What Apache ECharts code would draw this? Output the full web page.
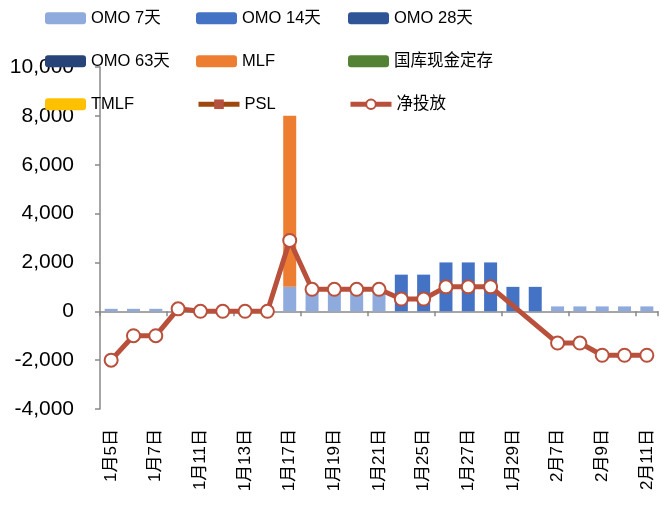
<!DOCTYPE html>
<html>
<head>
<meta charset="utf-8">
<script src="https://cdn.jsdelivr.net/npm/echarts@6/dist/echarts.min.js"></script>
<style>
html, body { margin: 0; padding: 0; background: #fff; }
#chart { width: 660px; height: 516px; }
</style>
</head>
<body>
<div id="chart"></div>
<script>
var categories = ['1月5日', '1月6日', '1月7日', '1月10日', '1月11日', '1月12日', '1月13日', '1月14日',
    '1月17日', '1月18日', '1月19日', '1月20日', '1月21日', '1月24日', '1月25日', '1月26日',
    '1月27日', '1月28日', '1月29日', '1月30日', '2月7日', '2月8日', '2月9日', '2月10日', '2月11日'];

var omo7 = [100, 100, 100, 100, 100, 100, 100, 100, 1000, 1000, 1000, 1000, 1000, 0, 0, 0,
    0, 0, 0, 0, 200, 200, 200, 200, 200];
var omo14 = [0, 0, 0, 0, 0, 0, 0, 0, 0, 0, 0, 0, 0, 1500, 1500, 2000,
    2000, 2000, 1000, 1000, 0, 0, 0, 0, 0];
var omo28 = [];
var omo63 = [];
var mlf = [0, 0, 0, 0, 0, 0, 0, 0, 7000, 0, 0, 0, 0, 0, 0, 0,
    0, 0, 0, 0, 0, 0, 0, 0, 0];
var deposit = [];
var tmlf = [];
var psl = [];
var net = [-2000, -1000, -1000, 100, 0, 0, 0, 0, 2900, 900, 900, 900, 900, 500, 500, 1000,
    1000, 1000, null, null, -1300, -1300, -1800, -1800, -1800];

var yTicks = [-4000, -2000, 0, 2000, 4000, 6000, 8000, 10000];

var font = "'Liberation Sans', 'Noto Sans CJK SC', sans-serif";

function fmt(val) {
    var s = String(Math.abs(val)).replace(/\B(?=(\d{3})+(?!\d))/g, ',');
    return (val < 0 ? '-' : '') + s;
}

function barSeries(name, data, color) {
    return {
        name: name,
        type: 'bar',
        stack: 'total',
        barWidth: 13,
        itemStyle: { color: color },
        data: data
    };
}

// one legend per item so the 3x3 grid lines up
var legendNames = [
    ['OMO 7天', 'OMO 14天', 'OMO 28天'],
    ['OMO 63天', 'MLF', '国库现金定存'],
    ['TMLF', 'PSL', '净投放']
];
var legendCols = [45, 196, 348];
var legendRows = [10, 53, 96];
var legends = [];
legendNames.forEach(function (row, r) {
    row.forEach(function (name, c) {
        legends.push({
            top: legendRows[r],
            left: legendCols[c],
            padding: 0,
            itemWidth: 41,
            itemHeight: 12,
            lineStyle: { width: 5 },
            textStyle: { fontFamily: font, fontSize: 16.5, color: '#000' },
            data: [name]
        });
    });
});

var myChart = echarts.init(document.getElementById('chart'));

var option = {
    animation: false,
    legend: legends,
    grid: {
        left: 100,
        right: 2,
        top: 67,
        bottom: 107
    },
    xAxis: [
        {
            type: 'category',
            data: categories,
            position: 'bottom',
            axisLine: { onZero: true, lineStyle: { color: '#898989', width: 1.5 } },
            axisTick: { show: true, length: 5, lineStyle: { color: '#898989', width: 1.5 } },
            axisLabel: { show: false }
        },
        {
            // labels sit under the plot, not at zero
            type: 'category',
            data: categories,
            position: 'bottom',
            axisLine: { show: false, onZero: false },
            axisTick: { show: false },
            axisLabel: {
                interval: 1,
                rotate: 90,
                margin: 20,
                fontFamily: font,
                fontSize: 17,
                color: '#000'
            }
        }
    ],
    yAxis: {
        type: 'value',
        min: yTicks[0],
        max: yTicks[yTicks.length - 1],
        interval: 2000,
        splitLine: { show: false },
        axisLine: { show: true, lineStyle: { color: '#898989', width: 1.5 } },
        axisTick: { show: true, length: 5, lineStyle: { color: '#898989', width: 1.5 } },
        axisLabel: {
            margin: 26,
            fontFamily: font,
            fontSize: 21,
            color: '#000',
            formatter: fmt
        }
    },
    series: [
        barSeries('OMO 7天', omo7, '#8FAADC'),
        barSeries('OMO 14天', omo14, '#4472C4'),
        barSeries('OMO 28天', omo28, '#2F5597'),
        barSeries('OMO 63天', omo63, '#264478'),
        barSeries('MLF', mlf, '#ED7D31'),
        barSeries('国库现金定存', deposit, '#548235'),
        barSeries('TMLF', tmlf, '#FFC000'),
        {
            name: 'PSL',
            type: 'line',
            symbol: 'rect',
            symbolSize: 9,
            lineStyle: { color: '#9E480E', width: 5 },
            itemStyle: { color: '#B5513F' },
            data: psl
        },
        {
            name: '净投放',
            type: 'line',
            connectNulls: true,
            symbol: 'circle',
            symbolSize: 13,
            z: 5,
            lineStyle: { color: '#B9503C', width: 5 },
            itemStyle: { color: '#fff', borderColor: '#B9503C', borderWidth: 2 },
            data: net
        }
    ]
};

option && myChart.setOption(option);
</script>
</body>
</html>
